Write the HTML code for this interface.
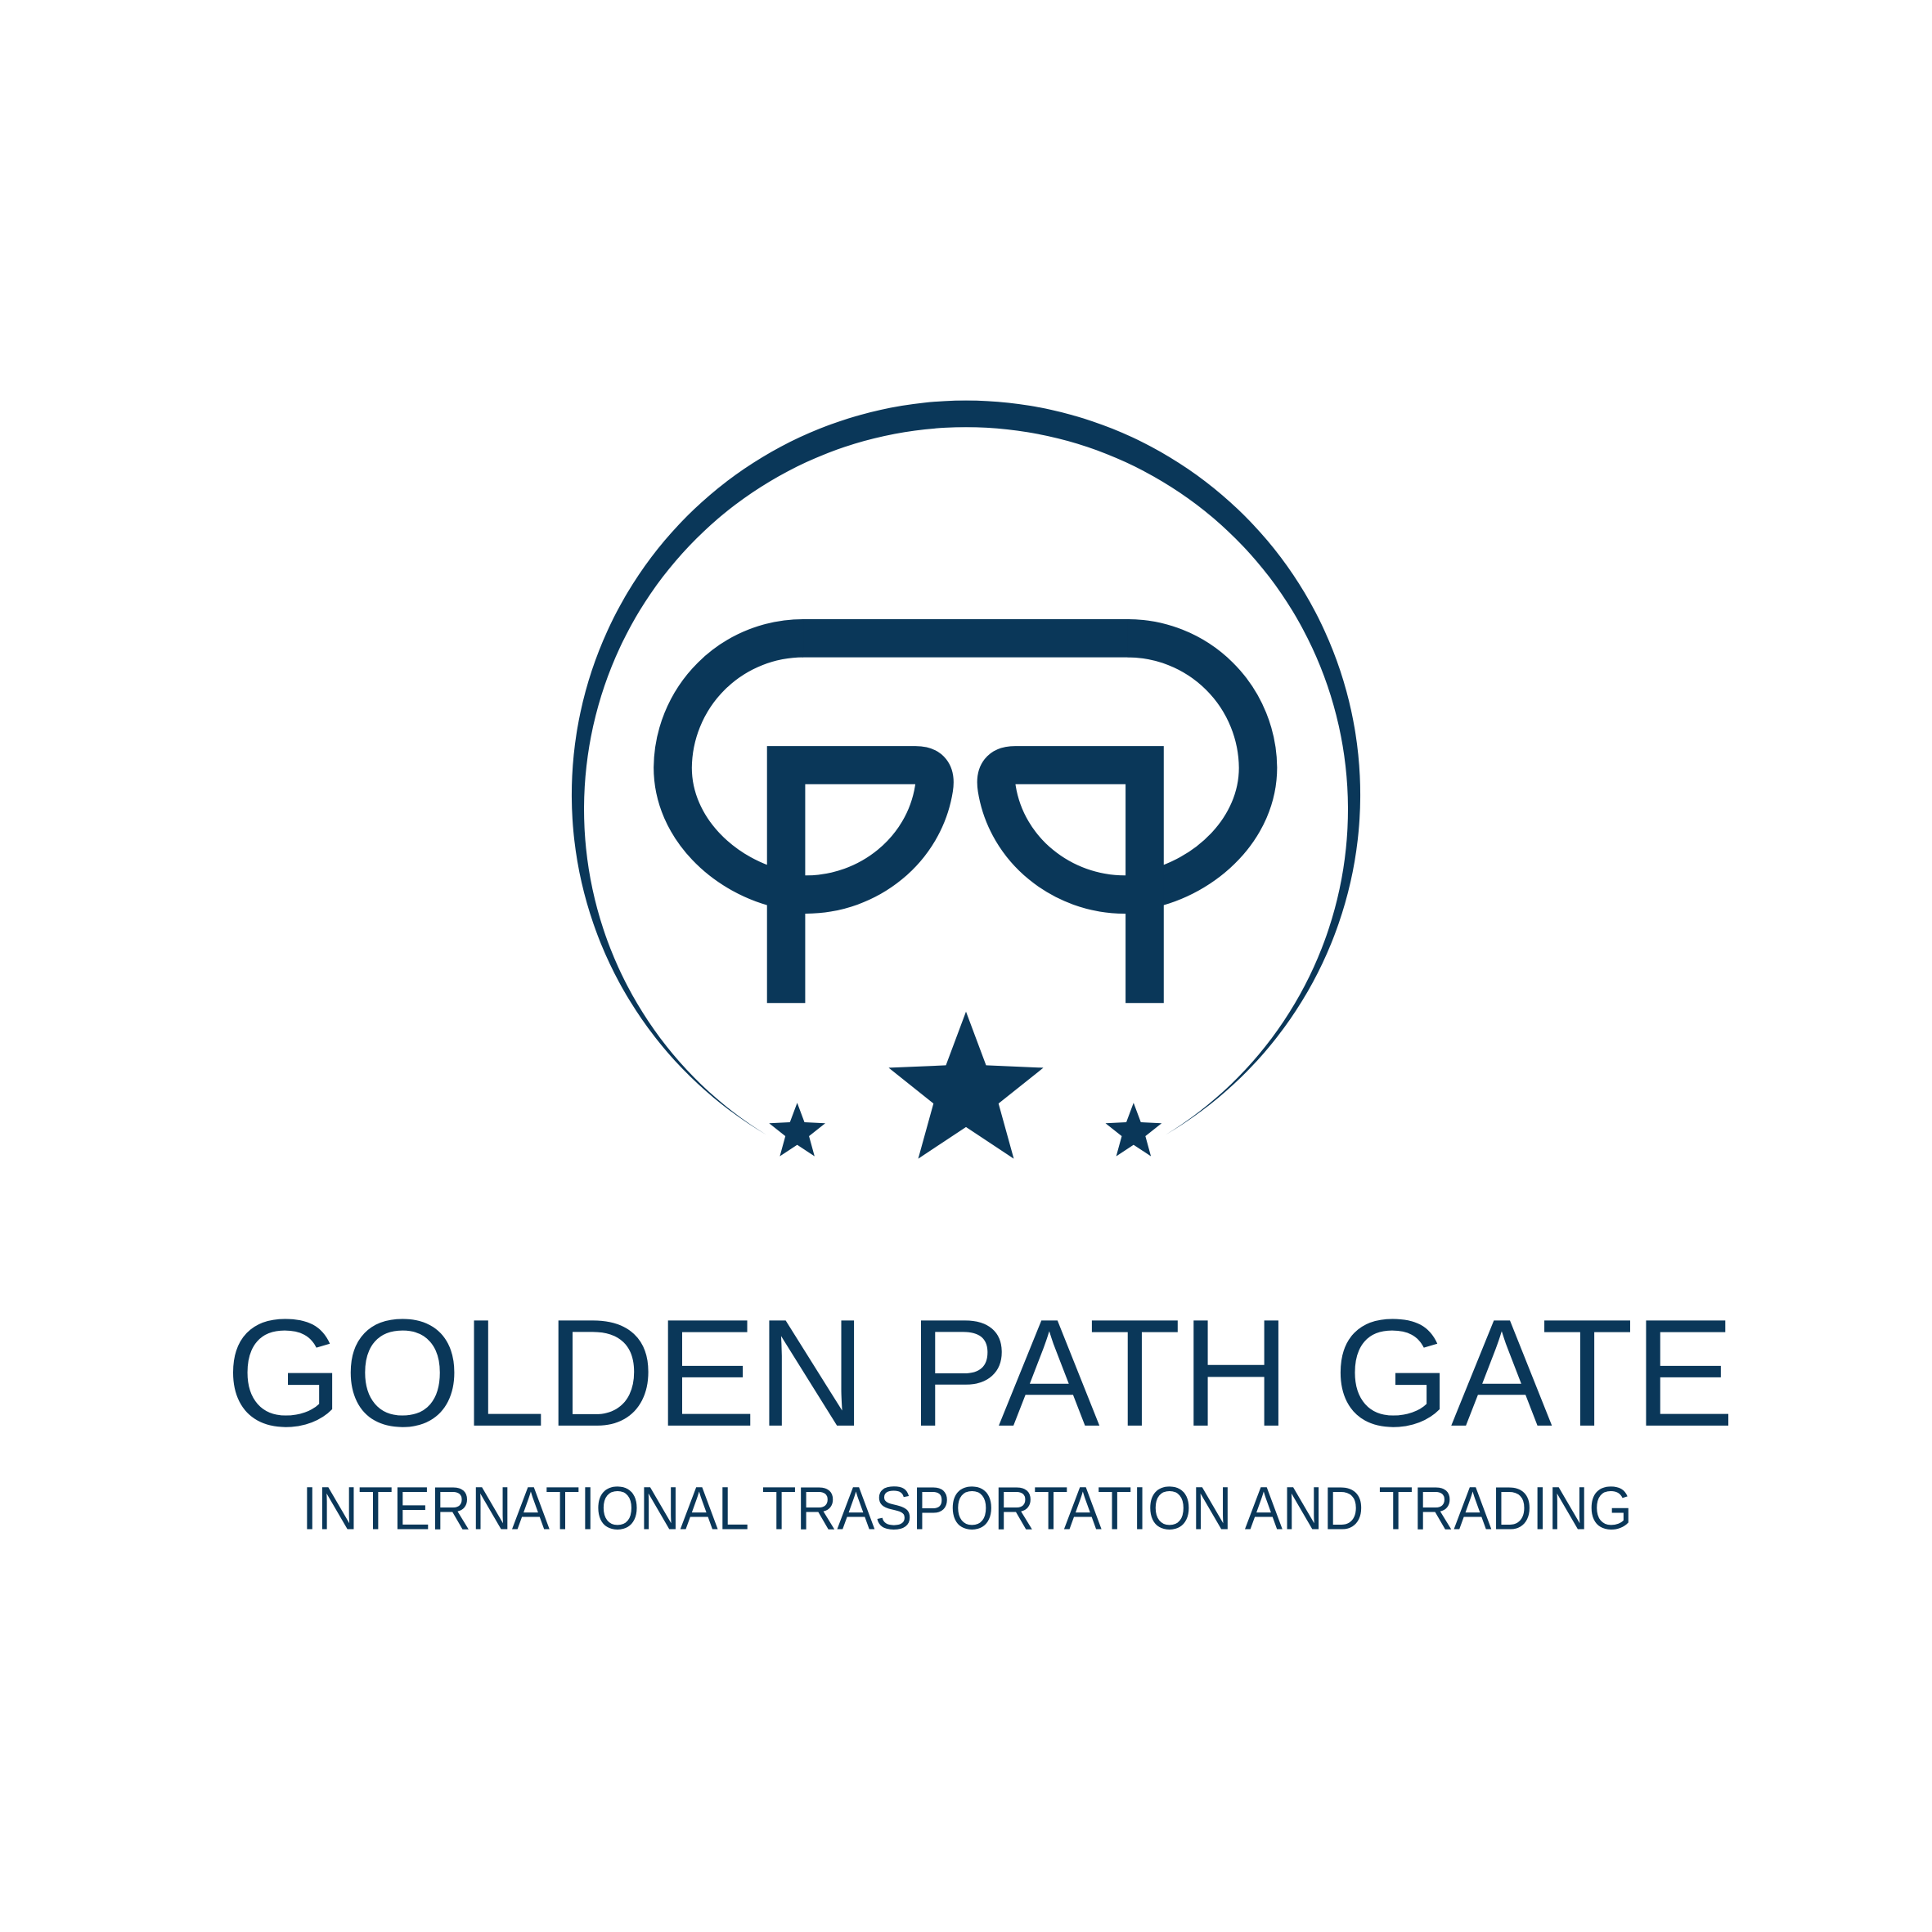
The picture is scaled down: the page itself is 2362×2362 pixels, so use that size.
<!DOCTYPE html>
<html>
<head>
<meta charset="utf-8">
<style>
html,body{margin:0;padding:0;background:#fff;}
svg{display:block;}
</style>
</head>
<body>
<svg width="2362" height="2362" viewBox="0 0 1568 1568" xmlns="http://www.w3.org/2000/svg">
  <rect x="0" y="0" width="1568" height="1568" fill="#ffffff"/>
  <g fill="#0a3759" stroke="none">
    <path d="M622,921 A320,320 0 1 1 946,921 A310,310 0 1 0 622,921 Z"/>
  </g>
  <g fill="none" stroke="#0a3759" stroke-width="31" stroke-linejoin="round">
    <path d="M651,518 L917,518"/>
    <g>
      <path d="M652,518 A106,106 0 0 0 546,623 C546,672 588,712 636,722"/>
      <path d="M638,814 L638,621 L743,621 Q761,621 758,640 C750,690 705,726 654,726 L638,726" stroke-linejoin="miter"/>
    </g>
    <g transform="translate(1567,0) scale(-1,1)">
      <path d="M652,518 A106,106 0 0 0 546,623 C546,672 588,712 636,722"/>
      <path d="M638,814 L638,621 L743,621 Q761,621 758,640 C750,690 705,726 654,726 L638,726" stroke-linejoin="miter"/>
    </g>
  </g>
  <g fill="#0a3759" id="stars"></g>
  <text x="183" y="1157" textLength="1225" lengthAdjust="spacingAndGlyphs" font-family="'Liberation Sans', sans-serif" font-size="124" fill="#0a3759">GOLDEN PATH GATE</text>
  <text x="245" y="1241" textLength="1080" lengthAdjust="spacingAndGlyphs" font-family="'Liberation Sans', sans-serif" font-size="49" fill="#0a3759">INTERNATIONAL TRASPORTATION AND TRADING</text>
</svg>
<script>
var g = document.getElementById('stars');
function star(cx, cy, r, name) {
  var pts = [];
  for (var i = 0; i < 10; i++) {
    var rr = i % 2 === 0 ? r : r * 0.42;
    var a = -Math.PI / 2 + i * Math.PI / 5;
    pts.push((cx + rr * Math.cos(a)).toFixed(1) + ',' + (cy + rr * Math.sin(a)).toFixed(1));
  }
  var p = document.createElementNS('http://www.w3.org/2000/svg', 'polygon');
  p.setAttribute('points', pts.join(' '));
  
  
  g.appendChild(p);
}
star(784, 887, 66, 'center-star');
star(647, 919, 24, 'left-star');
star(920, 919, 24, 'right-star');
</script>
</body>
</html>
